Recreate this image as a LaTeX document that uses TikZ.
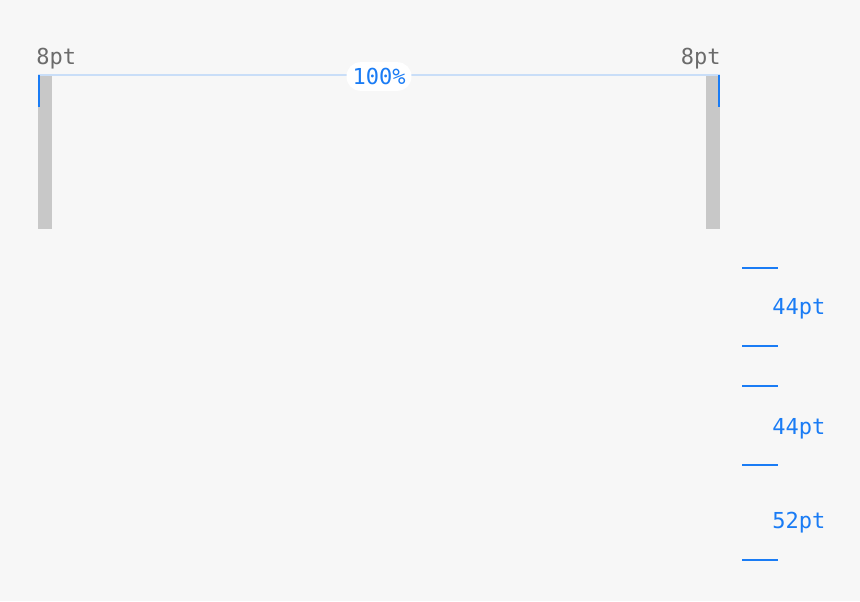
\documentclass[tikz,border=0pt]{standalone}
\usepackage{fontspec}
\setmonofont{DejaVu Sans Mono}
\usepackage{tikz}
\usetikzlibrary{calc}
\definecolor{bgcol}{HTML}{F7F7F7}
\definecolor{barcol}{HTML}{C8C8C8}
\definecolor{specblue}{HTML}{1A7CF5}
\definecolor{guideblue}{HTML}{C9DEF8}
\definecolor{labgray}{HTML}{6B6B6B}
\tikzset{
	ptlabel/.style={font=\ttfamily\fontsize{11}{13}\selectfont, inner sep=0pt},
	gap/.style={line width=1pt, color=specblue},
}

\begin{document}
\begin{tikzpicture}[x=0.5pt, y=-0.5pt]
		%%%%% START %%%%%
		
		\fill[bgcol] (0, 0) rectangle (860, 601);
		
		\fill[barcol] (38, 75) rectangle (52, 229);
		\fill[barcol] (706, 75) rectangle (720, 229);
		
		\draw[line width=1pt, color=guideblue] (38, 75) -- (720, 75);
		\draw[line width=1pt, color=specblue] (39, 75) -- (39, 107);
		\draw[line width=1pt, color=specblue] (719, 75) -- (719, 107);
		
		\node[ptlabel, text=specblue, fill=white, rounded corners=7pt, inner xsep=3pt, inner ysep=3pt] (width) at (379, 76.5) {100\%};
		
		\node[ptlabel, text=labgray, anchor=west] (leftpad) at (36, 59) {8pt};
		\node[ptlabel, text=labgray, anchor=east] (rightpad) at (721, 59) {8pt};
		
		\draw[gap] (742, 268) -- (778, 268);
		\draw[gap] (742, 346) -- (778, 346);
		\draw[gap] (742, 386) -- (778, 386);
		\draw[gap] (742, 465) -- (778, 465);
		\draw[gap] (742, 560) -- (778, 560);
		
		\node[ptlabel, text=specblue, anchor=west] (rowa) at (772, 309) {44pt};
		\node[ptlabel, text=specblue, anchor=west] (rowb) at (772, 429) {44pt};
		\node[ptlabel, text=specblue, anchor=west] (rowc) at (772, 523) {52pt};
		
		\useasboundingbox (0, 0) rectangle (860, 601);
		
		%%%%% END %%%%%
\end{tikzpicture}
\end{document}
